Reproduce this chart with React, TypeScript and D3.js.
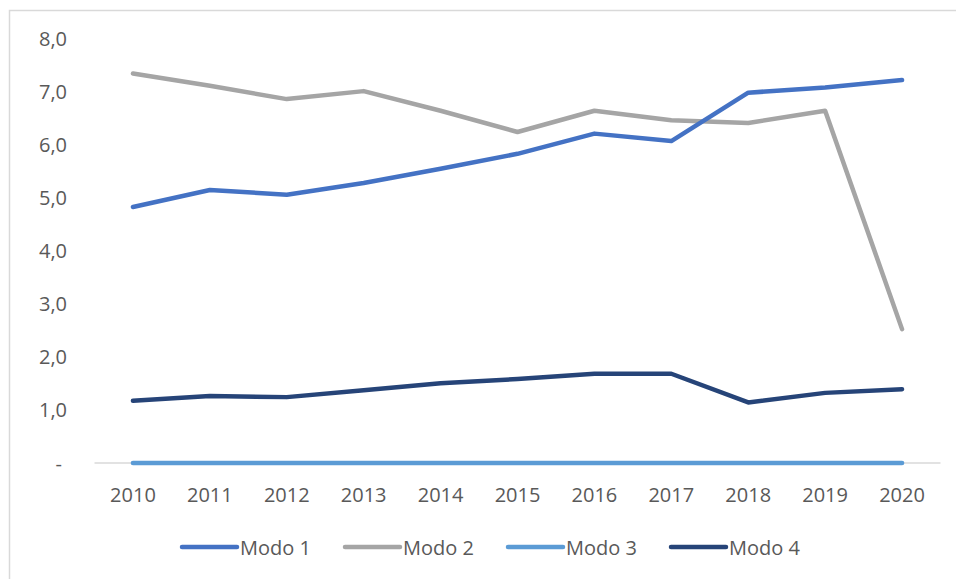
import React from "react";
import * as d3 from "d3";

const years = ["2010","2011","2012","2013","2014","2015","2016","2017","2018","2019","2020"];
const modo1 = [4.82, 5.14, 5.05, 5.27, 5.54, 5.82, 6.2, 6.06, 6.97, 7.07, 7.21];
const modo2 = [7.33, 7.1, 6.85, 7.0, 6.63, 6.23, 6.63, 6.45, 6.4, 6.63, 2.52];
const modo3 = [0, 0, 0, 0, 0, 0, 0, 0, 0, 0, 0];
const modo4 = [1.17, 1.26, 1.24, 1.37, 1.5, 1.58, 1.68, 1.68, 1.14, 1.32, 1.39];
const seriesNames = ["Modo 1", "Modo 2", "Modo 3", "Modo 4"];
const yTicks = [0, 1, 2, 3, 4, 5, 6, 7, 8];

const colors = ["#4472C4", "#A5A5A5", "#5B9BD5", "#264478"];
const W = 956, H = 579;
const left = 94.5, right = 940.5, top = 38, bottom = 463;
const font = "'Open Sans', 'Liberation Sans', sans-serif";

export default function App() {
  const x = d3.scaleBand<string>().domain(years).range([left, right]);
  const y = d3.scaleLinear().domain([0, 8]).range([bottom, top]);
  const all = [modo1, modo2, modo3, modo4];
  const line = d3.line<number>()
    .x((_, i) => (x(years[i]) as number) + x.bandwidth() / 2)
    .y((v) => y(v));
  const fmt = (v: number) => (v === 0 ? "-" : v.toFixed(1).replace(".", ","));
  const legendX = [182, 345, 508, 671];
  return (
    <svg width={W} height={H} style={{ position: "absolute", left: 0, top: 0 }} fontFamily={font}>
      <rect x={0} y={0} width={W} height={H} fill="#fff" />
      <rect x={9.5} y={10.5} width={W + 10} height={H + 10} fill="none" stroke="#d9d9d9" strokeWidth={1.5} />
      {yTicks.map((t) => (
        <text key={t} x={t === 0 ? 62 : 67} y={y(t)} textAnchor="end" dominantBaseline="central" fontSize={20} fill="#595959">
          {fmt(t)}
        </text>
      ))}
      <line x1={left} x2={right} y1={bottom} y2={bottom} stroke="#d9d9d9" strokeWidth={1.5} />
      {years.map((yr) => (
        <text key={yr} x={(x(yr) as number) + x.bandwidth() / 2} y={494} textAnchor="middle" dominantBaseline="central" fontSize={20} fill="#595959">
          {yr}
        </text>
      ))}
      {[2, 3, 1, 0].map((k) => (
        <path key={k} d={line(all[k]) || ""} fill="none" stroke={colors[k]} strokeWidth={4.5} strokeLinecap="round" strokeLinejoin="round" />
      ))}
      {seriesNames.map((n, i) => (
        <g key={n}>
          <line x1={legendX[i]} x2={legendX[i] + 55} y1={547} y2={547} stroke={colors[i]} strokeWidth={4.5} strokeLinecap="round" />
          <text x={legendX[i] + 58} y={547} dominantBaseline="central" fontSize={20} fill="#595959">{n}</text>
        </g>
      ))}
    </svg>
  );
}
